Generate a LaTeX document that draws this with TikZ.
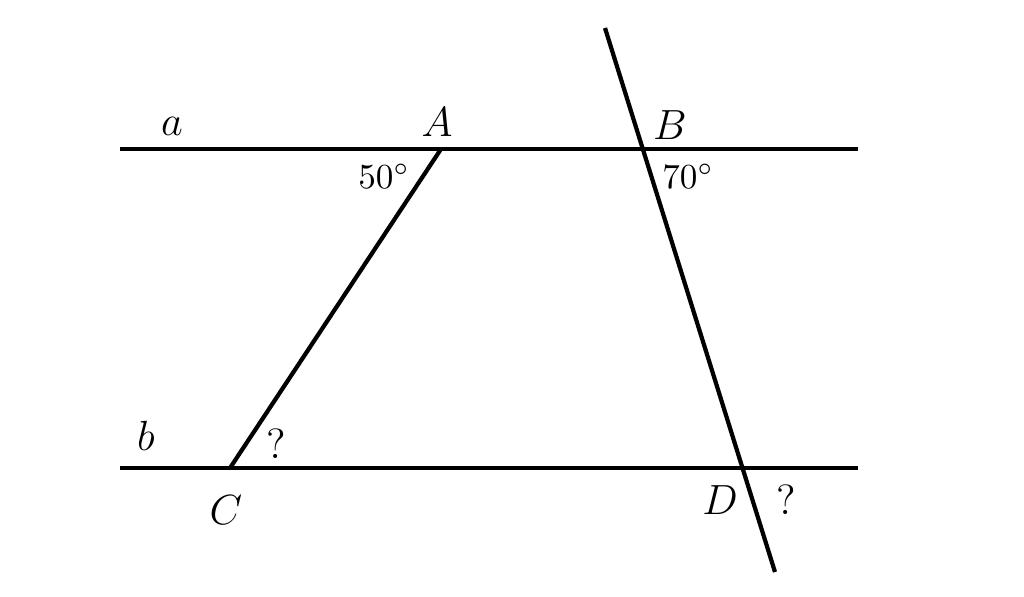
\documentclass[tikz,border=0pt]{standalone}
\usepackage{amsmath}
\usetikzlibrary{calc}

\begin{document}
\begin{tikzpicture}[x=0.01cm, y=-0.01cm]
      \useasboundingbox (0,0) rectangle (1024,596);
      % lines a and b
      \coordinate (a1) at (120,149);
      \coordinate (a2) at (858,149);
      \coordinate (b1) at (120,468);
      \coordinate (b2) at (858,468);
      % transversal ends
      \coordinate (t1) at (605,28);
      \coordinate (t2) at (775,572);
      \coordinate (A) at (441,149);
      \coordinate (B) at (642.8,149);
      \coordinate (C) at (230,468);
      \coordinate (D) at (742.5,468);

      \draw[line width=1.2pt] (a1) -- (a2);
      \draw[line width=1.2pt] (b1) -- (b2);
      \draw[line width=1.2pt] (A) -- (C);
      \draw[line width=1.2pt] (t1) -- (t2);

      \node[font=\large] (la) at (172,126) {$a$};
      \node[font=\large] (lb) at (146,436) {$b$};
      \node[font=\large] (lA) at (437,122) {$A$};
      \node[font=\large] (lB) at (670,125) {$B$};
      \node[font=\large] (lC) at (226,510) {$C$};
      \node[font=\large] (lD) at (720,500) {$D$};
      \node (ang50) at (384,176) {$50^\circ$};
      \node (ang70) at (688,176) {$70^\circ$};
      \node[font=\large] (qC) at (276,444) {?};
      \node[font=\large] (qD) at (786,500) {?};
    \end{tikzpicture}
\end{document}
